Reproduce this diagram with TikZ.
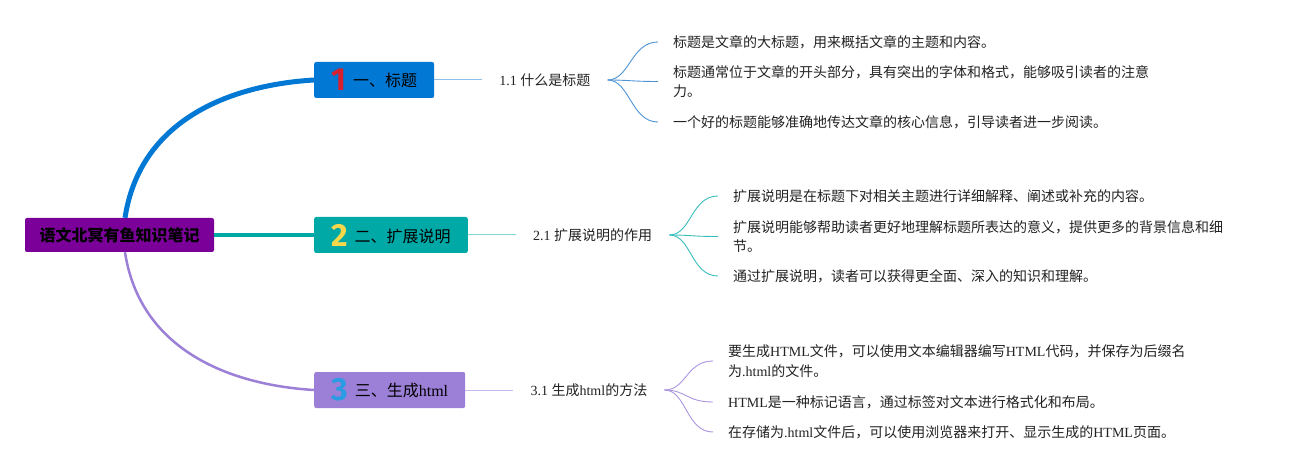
\documentclass[tikz,border=0pt]{standalone}
\usepackage{fontspec}
\setmainfont{Noto Sans CJK SC}
\newfontfamily\lat{Liberation Serif}
\newfontfamily\numfont{Fira Sans}
\usetikzlibrary{positioning,calc}
\definecolor{rootc}{HTML}{7A0099}
\definecolor{blueA}{HTML}{0078D4}
\definecolor{tealA}{HTML}{00A9A6}
\definecolor{lavA}{HTML}{9C7FD6}
\definecolor{numred}{HTML}{D6202F}
\definecolor{numyel}{HTML}{F7D84A}
\definecolor{numblue}{HTML}{2B9BE3}
\definecolor{blueL}{HTML}{8CC0EA}
\definecolor{blueB}{HTML}{4D94D6}
\definecolor{tealL}{HTML}{7FD7D4}
\definecolor{tealB}{HTML}{38BDBB}
\definecolor{lavL}{HTML}{C6B8EC}
\definecolor{lavB}{HTML}{AB95E0}
\definecolor{txt}{HTML}{222222}
\newcommand\mmnum[2]{\raisebox{-4pt}{\numfont\bfseries\fontsize{32}{32}\selectfont\color{#1}#2}\hspace{7pt}}
\begin{document}
\begin{tikzpicture}[x=1pt,y=-1pt,
  rootbox/.style={fill=rootc, rounded corners=2pt, minimum width=189pt, minimum height=34pt, inner sep=0pt, font=\fontsize{16}{18}\selectfont\bfseries, text=black},
  mainbox/.style={fill=#1, rounded corners=2pt, minimum height=36pt, inner xsep=17pt, inner ysep=0pt, anchor=west, font=\fontsize{16}{18}\selectfont, text=black},
  subbox/.style={anchor=west, inner xsep=17pt, font=\fontsize{14}{18}\selectfont, text=txt},
  leafbox/.style={anchor=west, inner xsep=15pt, inner ysep=0pt, align=left, font=\fontsize{14}{19.5}\selectfont, text=txt},
  thinline/.style={line width=1pt, draw=#1},
  branch/.style={line width=0.9pt, draw=#1},
]
\useasboundingbox (0,0) rectangle (1292,470);

% root and main topics
\node[rootbox] (root) at (119.5,235) {语文北冥有鱼知识笔记};
\node[mainbox=blueA] (n1) at (314,80) {\mmnum{numred}{1}一、标题};
\node[mainbox=tealA] (n2) at (314,235) {\mmnum{numyel}{2}二、扩展说明};
\node[mainbox=lavA] (n3) at (314,390) {\mmnum{numblue}{3}三、生成{\lat html}};

% subtopics
\node[subbox, right=48pt of n1] (s1) {{\lat 1.1 }什么是标题};
\node[subbox, right=48pt of n2] (s2) {{\lat 2.1 }扩展说明的作用};
\node[subbox, right=48pt of n3] (s3) {{\lat 3.1 }生成{\lat html}的方法};

% leaves
\node[leafbox] (l11) at (658,42) {标题是文章的大标题，用来概括文章的主题和内容。};
\node[leafbox] (l12) at (658,81.5) {标题通常位于文章的开头部分，具有突出的字体和格式，能够吸引读者的注意\\力。};
\node[leafbox] (l13) at (658,122) {一个好的标题能够准确地传达文章的核心信息，引导读者进一步阅读。};

\node[leafbox] (l21) at (718,196) {扩展说明是在标题下对相关主题进行详细解释、阐述或补充的内容。};
\node[leafbox] (l22) at (718,236.5) {扩展说明能够帮助读者更好地理解标题所表达的意义，提供更多的背景信息和细\\节。};
\node[leafbox] (l23) at (718,276) {通过扩展说明，读者可以获得更全面、深入的知识和理解。};

\node[leafbox] (l31) at (713,361) {要生成{\lat HTML}文件，可以使用文本编辑器编写{\lat HTML}代码，并保存为后缀名\\为{\lat .html}的文件。};
\node[leafbox] (l32) at (713,402) {{\lat HTML}是一种标记语言，通过标签对文本进行格式化和布局。};
\node[leafbox] (l33) at (713,432) {在存储为{\lat .html}文件后，可以使用浏览器来打开、显示生成的{\lat HTML}页面。};

% root connectors
\draw[blueA, line width=5pt] ($(root.north)+(5.5,0)$) .. controls +(15,-98) and +(-84,5) .. (n1.west);
\draw[tealA, line width=4pt] (root.east) -- (n2.west);
\draw[lavA, line width=2.5pt] ($(root.south)+(5.5,0)$) .. controls +(15,98) and +(-84,-5) .. (n3.west);

% main to sub
\draw[thinline=blueL] (n1.east) -- (s1.west);
\draw[thinline=tealL] (n2.east) -- (s2.west);
\draw[thinline=lavL] (n3.east) -- (s3.west);

% branches
\foreach \l in {l11,l12,l13}
  \draw[branch=blueB] (s1.east) .. controls +(22,0) and +(-27,0) .. (\l.west);
\foreach \l in {l21,l22,l23}
  \draw[branch=tealB] (s2.east) .. controls +(22,0) and +(-27,0) .. (\l.west);
\foreach \l in {l31,l32,l33}
  \draw[branch=lavB] (s3.east) .. controls +(22,0) and +(-27,0) .. (\l.west);
\end{tikzpicture}
\end{document}
